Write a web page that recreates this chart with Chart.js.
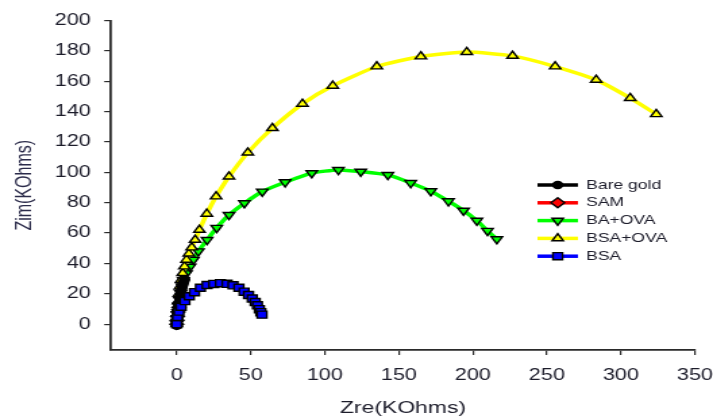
<!DOCTYPE html>
<html>
<head>
<meta charset="utf-8">
<title>Nyquist plot</title>
<script src="https://cdn.jsdelivr.net/npm/chart.js@4.4.1/dist/chart.umd.min.js"></script>
<style>
  html, body { margin:0; padding:0; background:#fff; overflow:hidden; }
  /* the source figure is stretched sideways, so draw narrow and widen */
  #wrap { width:528px; height:420px; transform:scaleX(1.3504); transform-origin:0 0; }
</style>
</head>
<body>
<div id="wrap"><canvas id="nyq" width="528" height="420"></canvas></div>
<script>
/* ── data (KOhms) ─────────────────────────────────────────── */
const xTicks = [0, 50, 100, 150, 200, 250, 300, 350];
const yTicks = [0, 20, 40, 60, 80, 100, 120, 140, 160, 180, 200];

const seriesNames = ['Bare gold', 'SAM', 'BA+OVA', 'BSA+OVA', 'BSA'];

const bareGoldX = [0, 0.1, 0.3, 0.6, 0.9, 1.3, 1.7, 2.1, 2.6, 3.1, 3.6, 4.2, 4.8, 5.4];
const bareGoldY = [-1, 2, 4.5, 7, 9.5, 12, 14.5, 17, 19.5, 22, 24, 26, 28, 29.5];

const samX = [0, 0.2, 0.5, 0.9, 1.4, 2];
const samY = [0, 2.5, 5, 8, 11, 14];

const baOvaX = [0, 0.3, 0.7, 1.2, 1.8, 2.6, 3.5, 4.5, 6.5, 9, 11.2, 14.6, 20.5, 27, 35.3, 45.7, 57.8,
                73.2, 91.2, 109.2, 124.3, 142.6, 158, 171.6, 183.5, 193.7, 202.7, 209.9, 216.2];
const baOvaY = [0, 4, 8, 12, 16, 20.5, 25, 29, 33.5, 37.9, 42.4, 48, 55.5, 63.5, 72, 79.7, 87.4,
                93.5, 99.5, 101.6, 100.5, 98.3, 93, 87.6, 81, 74.8, 68.2, 61.5, 56];

const bsaOvaX = [0, 0.3, 0.6, 1, 1.5, 2.1, 3, 4, 5.2, 6.6, 8.2, 10.1, 12.4, 15.3, 20.3, 26.6, 35.3,
                 48, 64.6, 84.9, 105.4, 135.1, 164.9, 195.9, 226.8, 255.6, 283.3, 306.3, 323.9];
const bsaOvaY = [0, 5, 10, 15, 20, 24.8, 29.2, 33.6, 38, 42.4, 46.5, 50.5, 55.5, 62.1, 72.7, 84.1, 97.2,
                 113, 129.1, 145.1, 157, 169.7, 176.3, 179.2, 176.7, 169.7, 160.9, 148.9, 138.3];

const bsaX = [0, 0.5, 1.5, 3, 5.5, 8.5, 12, 16, 20.5, 25, 29.5, 34, 38, 42, 45.5, 48.5, 51, 53, 54.5, 55.8, 56.8, 57.6];
const bsaY = [0, 4.8, 8.3, 11.5, 15.2, 18.4, 21.1, 24, 25.8, 26.5, 27, 26.6, 25.6, 24, 21.4, 19.2, 16.9, 14.6, 12.4, 9.9, 7.9, 6.3];

const pts = (xs, ys) => xs.map((x, i) => ({ x, y: ys[i] }));

/* ── styling ──────────────────────────────────────────────── */
const FONT = "'Liberation Sans', Arial, sans-serif";
const AXIS = '#2a2a2a';
const TXT  = '#1c1c2a';

const mkSet = (label, data, color, style, rot, r, order) => ({
  label, data, order,
  showLine: true,
  borderColor: color,
  borderWidth: 3.5,
  tension: 0.2,
  pointStyle: style,
  rotation: rot,
  pointRadius: r,
  pointBorderWidth: 1.4,
  pointBorderColor: '#000',
  pointBackgroundColor: style === 'circle' ? '#000' : color,
});

// z-order: lower `order` is drawn on top
const datasets = [
  mkSet(seriesNames[0], pts(bareGoldX, bareGoldY), '#000000', 'circle',   0,   3.5, 1),
  mkSet(seriesNames[1], pts(samX, samY),           '#ff0000', 'rectRot',  0,   5,   4),
  mkSet(seriesNames[2], pts(baOvaX, baOvaY),       '#00ff00', 'triangle', 180, 4.8, 3),
  mkSet(seriesNames[3], pts(bsaOvaX, bsaOvaY),     '#ffff00', 'triangle', 0,   4.8, 2),
  mkSet(seriesNames[4], pts(bsaX, bsaY),           '#0000ff', 'rect',     0,   5,   0),
];

/* legend drawn inside the plot, line + marker like SigmaPlot */
const boxLegend = {
  id: 'boxLegend',
  afterDraw(chart) {
    const { ctx } = chart;
    const x0 = 398, x1 = 428, tx = 434, y0 = 185, dy = 17.8;
    ctx.save();
    chart.data.datasets.forEach((ds, i) => {
      const y = y0 + i * dy;
      ctx.strokeStyle = ds.borderColor;
      ctx.lineWidth = 3.5;
      ctx.beginPath(); ctx.moveTo(x0, y); ctx.lineTo(x1, y); ctx.stroke();
      ctx.fillStyle = ds.pointBackgroundColor;
      ctx.strokeStyle = ds.pointBorderColor;
      ctx.lineWidth = ds.pointBorderWidth;
      Chart.helpers.drawPoint(ctx, {
        pointStyle: ds.pointStyle, rotation: ds.rotation,
        radius: ds.pointRadius, borderWidth: ds.pointBorderWidth,
      }, (x0 + x1) / 2, y);
      ctx.fillStyle = TXT;
      ctx.font = '13px ' + FONT;
      ctx.textBaseline = 'middle';
      ctx.textAlign = 'left';
      ctx.fillText(ds.label, tx, y);
    });
    ctx.restore();
  },
};

const axisCommon = {
  type: 'linear',
  border: { display: true, color: AXIS, width: 1.8 },
  grid: { display: true, drawOnChartArea: false, drawTicks: true, tickLength: 5, color: AXIS, lineWidth: 1.2 },
};

new Chart(document.getElementById('nyq'), {
  type: 'scatter',
  data: { datasets },
  plugins: [boxLegend],
  options: {
    responsive: false,
    devicePixelRatio: 1,
    animation: false,
    layout: { padding: { left: 0, right: 13.4, top: 20.5, bottom: 0 } },
    plugins: { legend: { display: false }, tooltip: { enabled: false } },
    scales: {
      x: {
        ...axisCommon,
        position: 'bottom',
        min: -44.4, max: 350,
        afterBuildTicks: ax => { ax.ticks = xTicks.map(v => ({ value: v })); },
        // keep the plot edge where the figure has it; the last label may overhang
        afterFit: ax => { ax.height = 70; ax.paddingLeft = 0; ax.paddingRight = 0; },
        ticks: { color: TXT, font: { family: FONT, size: 16 }, padding: 11, maxRotation: 0, autoSkip: false },
        title: { display: true, text: 'Zre(KOhms)', color: TXT, font: { family: FONT, size: 17 }, padding: { top: 0, bottom: 1 } },
      },
      y: {
        ...axisCommon,
        position: 'left',
        min: -17, max: 200,
        afterBuildTicks: ax => { ax.ticks = yTicks.map(v => ({ value: v })); },
        afterFit: ax => { ax.width = 82.2; ax.paddingTop = 0; ax.paddingBottom = 0; },
        ticks: { color: TXT, font: { family: FONT, size: 16 }, padding: 10, autoSkip: false },
        title: { display: true, text: 'Zim(KOhms)', color: '#2b2b4a', font: { family: FONT, size: 16 }, padding: { top: 9, bottom: 0 } },
      },
    },
  },
});
</script>
</body>
</html>
